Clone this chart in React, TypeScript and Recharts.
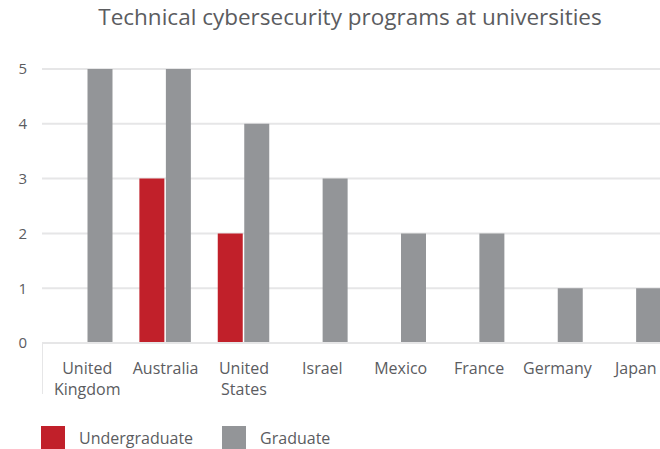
import { BarChart, Bar, XAxis, YAxis, CartesianGrid } from "recharts";

const COUNTRIES = [
  "United Kingdom",
  "Australia",
  "United States",
  "Israel",
  "Mexico",
  "France",
  "Germany",
  "Japan",
];
const UNDERGRADUATE = [0, 3, 2, 0, 0, 0, 0, 0];
const GRADUATE = [5, 5, 4, 3, 2, 2, 1, 1];
const Y_TICKS = [0, 1, 2, 3, 4, 5];

const SERIES = [
  { key: "undergraduate", label: "Undergraduate", color: "#C1202A" },
  { key: "graduate", label: "Graduate", color: "#939598" },
];

const data = COUNTRIES.map((name, i) => ({
  name,
  undergraduate: UNDERGRADUATE[i],
  graduate: GRADUATE[i],
}));

const FONT = "'Open Sans', sans-serif";
const TEXT = "#5b5c5f";
const GRID = "#e6e6e7";

function CountryTick({ x, y, payload }: { x?: number; y?: number; payload?: { value: string } }) {
  if (x == null || y == null || !payload) return null;
  const words = payload.value.split(" ");
  return (
    <text x={x} y={y} textAnchor="middle" fill={TEXT} fontSize={16} fontFamily={FONT}>
      {words.map((w, i) => (
        <tspan key={i} x={x} dy={i === 0 ? 31 : 20.5}>
          {w}
        </tspan>
      ))}
    </text>
  );
}

export default function App() {
  return (
    <div
      style={{
        position: "absolute",
        left: 0,
        top: 0,
        width: 660,
        height: 449,
        overflow: "hidden",
        background: "#fff",
        fontFamily: FONT,
      }}
    >
      <div
        style={{
          position: "absolute",
          left: 0,
          top: 2,
          width: 700,
          textAlign: "center",
          fontSize: 22.5,
          color: TEXT,
          lineHeight: "30px",
        }}
      >
        Technical cybersecurity programs at universities
      </div>
      <div
        style={{
          position: "absolute",
          left: 42,
          top: 343,
          width: 1,
          height: 51,
          background: GRID,
        }}
      />
      <div style={{ position: "absolute", left: 0, top: 0 }}>
        <BarChart
          width={700}
          height={460}
          data={data}
          margin={{ top: 69, right: 25, bottom: 57, left: 0 }}
          barSize={25}
          barGap={1.5}
        >
          <CartesianGrid vertical={false} stroke={GRID} strokeWidth={2} />
          <XAxis
            dataKey="name"
            interval={0}
            height={60}
            padding={{ left: 6, right: 0 }}
            axisLine={{ stroke: GRID, strokeWidth: 2 }}
            tickLine={false}
            tickSize={0}
            tickMargin={0}
            tick={<CountryTick />}
          />
          <YAxis
            domain={[0, 5]}
            ticks={Y_TICKS}
            width={42}
            axisLine={false}
            tickLine={false}
            tickSize={0}
            tickMargin={15}
            tick={{ fill: TEXT, fontSize: 15, fontFamily: FONT }}
          />
          {SERIES.map((s) => (
            <Bar
              key={s.key}
              dataKey={s.key}
              name={s.label}
              fill={s.color}
              isAnimationActive={false}
            />
          ))}
        </BarChart>
      </div>
      <div
        style={{
          position: "absolute",
          left: 41,
          top: 426,
          display: "flex",
          alignItems: "flex-start",
          fontSize: 16,
          color: TEXT,
        }}
      >
        {SERIES.map((s, i) => (
          <div
            key={s.key}
            style={{ display: "flex", alignItems: "flex-start", marginRight: i === 0 ? 29 : 0 }}
          >
            <div style={{ width: 24, height: 24, background: s.color }} />
            <span style={{ marginLeft: 14, lineHeight: "24px" }}>{s.label}</span>
          </div>
        ))}
      </div>
    </div>
  );
}
